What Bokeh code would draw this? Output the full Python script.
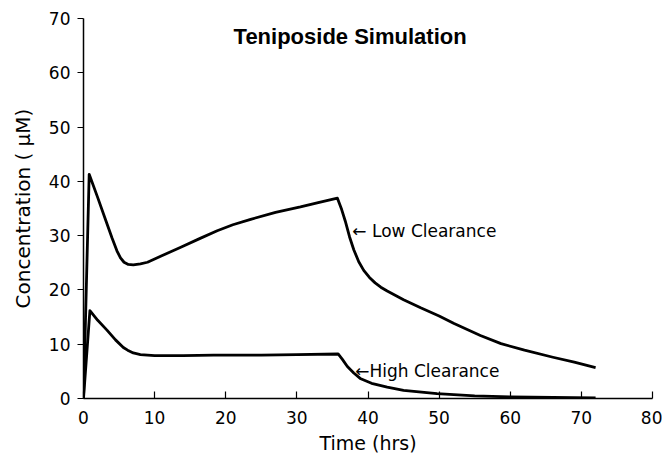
from bokeh.plotting import figure
from bokeh.models import Range1d, Label, FixedTicker
from bokeh.embed import file_html
from bokeh.resources import INLINE

# Data
low_t = [0, 0.8, 2.0, 3.0, 4.0, 4.7, 5.2, 5.7, 6.3, 7.0, 8.0, 9.0, 11.0, 13.6, 16.4, 18.8, 21.0, 23.5, 27.0,
         30.5, 33.0, 35.7,
         36.3, 36.8, 37.4, 38.0, 38.7, 39.4, 40.2, 41.0, 41.8, 42.7, 45.0, 47.4, 50.0, 52.1, 55.8, 58.7, 62.0,
         66.0, 69.0, 72.0]
low_c = [0, 41.3, 37.0, 33.3, 29.6, 27.2, 25.9, 25.1, 24.7, 24.6, 24.8, 25.1, 26.3, 27.8, 29.5, 30.9, 32.0, 33.0,
         34.3, 35.3, 36.1, 36.9,
         34.8, 32.7, 29.8, 27.4, 25.2, 23.6, 22.3, 21.3, 20.5, 19.8, 18.2, 16.7, 15.2, 13.8, 11.6, 10.1, 8.9,
         7.6, 6.7, 5.7]

high_t = [0, 0.9, 2.0, 3.3, 4.5, 5.6, 6.2, 7.0, 8.0, 10.0, 14.0, 18.3, 25.0, 30.0, 35.8,
          36.4, 37.1, 38.0, 38.9, 40.5, 42.7, 45.0, 49.7, 55.0, 60.0, 66.0, 72.0]
high_c = [0, 16.2, 14.4, 12.6, 10.8, 9.4, 8.9, 8.4, 8.1, 7.9, 7.9, 8.0, 8.0, 8.1, 8.2,
          7.2, 5.9, 4.7, 3.7, 2.8, 2.1, 1.5, 0.9, 0.5, 0.3, 0.2, 0.1]

x_ticks = [0, 10, 20, 30, 40, 50, 60, 70, 80]
y_ticks = [0, 10, 20, 30, 40, 50, 60, 70]

title_text = "Teniposide Simulation"
x_title = "Time (hrs)"
y_title = "Concentration ( \u03bcM)"
low_label = "\u2190 Low Clearance"
high_label = "\u2190High Clearance"

# annotation anchors (data units)
TITLE_POS = (21.1, 66.7)
LOW_POS = (37.8, 30.9)
HIGH_POS = (38.2, 5.0)

FONT = "DejaVu Sans"

p = figure(width=662, height=456, output_backend="svg", toolbar_location=None,
           x_range=Range1d(0, 80), y_range=Range1d(0, 70),
           min_border_left=83, min_border_right=10, min_border_top=18, min_border_bottom=56)
p.outline_line_color = None
p.xgrid.visible = False
p.ygrid.visible = False
p.background_fill_color = "white"
p.border_fill_color = "white"

p.line(low_t, low_c, line_color="black", line_width=2.8, line_join="round")
p.line(high_t, high_c, line_color="black", line_width=2.8, line_join="round")

for ax in (p.xaxis[0], p.yaxis[0]):
    ax.axis_line_color = "black"
    ax.axis_line_width = 1.5
    ax.major_tick_line_color = "black"
    ax.major_tick_line_width = 1.2
    ax.minor_tick_line_color = None
    ax.major_label_text_font = FONT
    ax.major_label_text_font_size = "17px"
    ax.major_label_text_color = "black"
    ax.axis_label_text_font = FONT
    ax.axis_label_text_font_style = "normal"
    ax.axis_label_text_color = "black"

p.xaxis[0].axis_label_text_font_size = "19px"
p.yaxis[0].axis_label_text_font_size = "20px"
p.xaxis[0].ticker = FixedTicker(ticks=x_ticks)
p.yaxis[0].ticker = FixedTicker(ticks=y_ticks)
p.xaxis[0].major_tick_in = 7
p.xaxis[0].major_tick_out = 0
p.yaxis[0].major_tick_in = 0
p.yaxis[0].major_tick_out = 6
p.xaxis[0].major_label_standoff = 12
p.yaxis[0].major_label_standoff = 7
p.xaxis[0].axis_label = x_title
p.xaxis[0].axis_label_standoff = 5
p.yaxis[0].axis_label = y_title
p.yaxis[0].axis_label_standoff = 11

p.add_layout(Label(x=TITLE_POS[0], y=TITLE_POS[1], text=title_text, text_font="Liberation Sans",
                   text_font_size="22px", text_font_style="bold", text_align="left",
                   text_baseline="alphabetic", text_color="black"))
p.add_layout(Label(x=LOW_POS[0], y=LOW_POS[1], text=low_label, text_font=FONT, text_font_size="17px",
                   text_align="left", text_baseline="alphabetic", text_color="black"))
p.add_layout(Label(x=HIGH_POS[0], y=HIGH_POS[1], text=high_label, text_font=FONT, text_font_size="17px",
                   text_align="left", text_baseline="alphabetic", text_color="black"))

open("out.html", "w").write(file_html(p, INLINE))
